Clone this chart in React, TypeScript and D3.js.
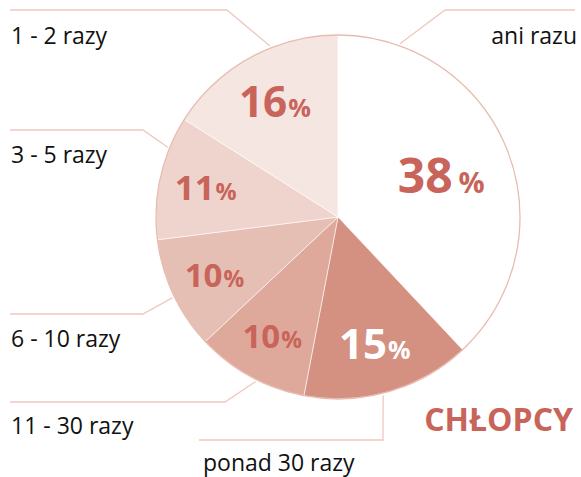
import React from "react";
import * as d3 from "d3";

// answers, clockwise from 12 o'clock
const categories = ["ani razu", "ponad 30 razy", "11 - 30 razy", "6 - 10 razy", "3 - 5 razy", "1 - 2 razy"];
const shares = [38, 15, 10, 10, 11, 16];
const sliceColors = ["#ffffff", "#d49182", "#dea99b", "#e6bfb4", "#eed4cd", "#f6e6e2"];
const title = "CHŁOPCY";

// leader layout: angle on the rim (deg), elbow, line end, label anchor
const leaders = [
  { angle: 19.7, elbow: [445, 10], end: [575, 10], text: [577, 44], anchor: "end" },
  { angle: 165.8, elbow: [383, 440], end: [199, 440], text: [203, 471], anchor: "start" },
  { angle: 206.6, elbow: [225, 402], end: [10, 402], text: [11, 434], anchor: "start" },
  { angle: 244, elbow: [143, 314], end: [10, 314], text: [11, 347], anchor: "start" },
  { angle: 292.3, elbow: [143, 130], end: [10, 130], text: [11, 163], anchor: "start" },
  { angle: 338.3, elbow: [227, 10], end: [10, 10], text: [11, 44], anchor: "start" },
];

const width = 581;
const height = 477;
const cx = 338;
const cy = 217;
const radius = 182;
const red = "#c8645a";
const lineColor = "#efc8be";
const font = "'Open Sans', 'Noto Sans', sans-serif";

export default function App() {
  const pie = d3
    .pie<number>()
    .sort(null)
    .value((d) => d);
  const arcs = pie(shares);
  const arc = d3.arc<d3.PieArcDatum<number>>().innerRadius(0).outerRadius(radius);

  const numSize = d3.scaleLinear().domain([10, 15, 38]).range([33, 42, 48]).clamp(true);
  const pctSize = d3.scaleLinear().domain([10, 15, 38]).range([23, 25, 29]).clamp(true);

  return (
    <svg
      width={width}
      height={height}
      style={{ position: "absolute", left: 0, top: 0, display: "block" }}
      fontFamily={font}
    >
      {leaders.map((l, i) => {
        const a = (l.angle * Math.PI) / 180;
        const sx = cx + (radius + 2) * Math.sin(a);
        const sy = cy - (radius + 2) * Math.cos(a);
        return (
          <g key={"l" + i}>
            <polyline
              points={`${sx},${sy} ${l.elbow[0]},${l.elbow[1]} ${l.end[0]},${l.end[1]}`}
              fill="none"
              stroke={lineColor}
              strokeWidth={1.3}
            />
            <text
              x={l.text[0]}
              y={l.text[1]}
              textAnchor={l.anchor}
              fontSize={23}
              fill="#111"
            >
              {categories[i]}
            </text>
          </g>
        );
      })}

      <g transform={`translate(${cx},${cy})`}>
        {arcs.map((d, i) => (
          <path
            key={"s" + i}
            d={arc(d) || ""}
            fill={sliceColors[i]}
            stroke="#ffffff"
            strokeOpacity={0.7}
            strokeWidth={0.8}
          />
        ))}
        <circle r={radius} fill="none" stroke="#e7bcb0" strokeWidth={1.3} />
        {arcs.map((d, i) => {
          const lr = radius * (0.8 - 0.005 * d.data);
          const mid = (d.startAngle + d.endAngle) / 2;
          const x = lr * Math.sin(mid);
          const y = -lr * Math.cos(mid);
          const ns = numSize(d.data);
          return (
            <text
              key={"t" + i}
              x={x}
              y={y + ns * 0.36}
              textAnchor="middle"
              fontWeight={700}
              fill={i === 1 ? "#ffffff" : red}
            >
              <tspan fontSize={ns}>{d.data}</tspan>
              <tspan fontSize={pctSize(d.data)} dx={d.data > 30 ? 6 : 1}>
                %
              </tspan>
            </text>
          );
        })}
      </g>

      <text x={573} y={431} textAnchor="end" fontSize={32} fontWeight={700} fill={red}>
        {title}
      </text>
    </svg>
  );
}
